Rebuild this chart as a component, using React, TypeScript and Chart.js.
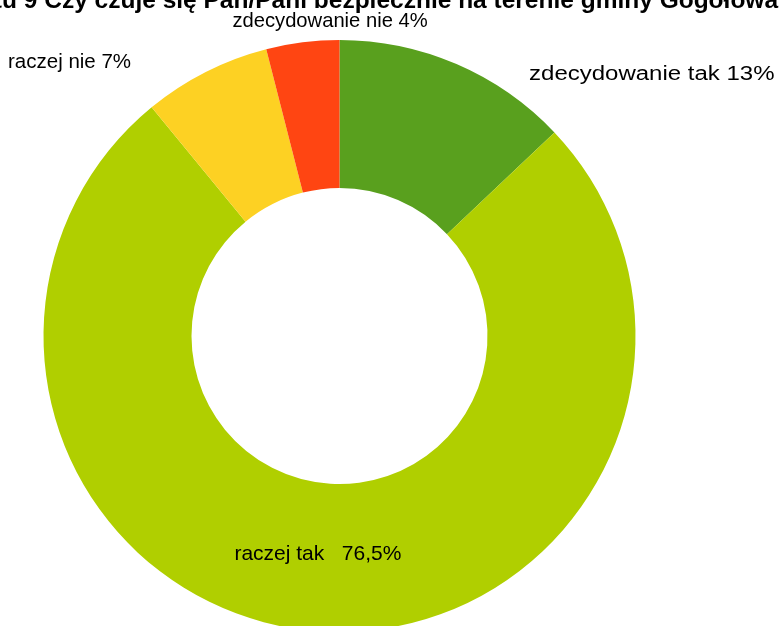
import React, { useEffect, useRef } from "react";
import { Chart, registerables } from "chart.js";

Chart.register(...registerables);

const categories = ["zdecydowanie tak", "raczej tak", "raczej nie", "zdecydowanie nie"];
const values = [13, 76.5, 7, 4];
const sliceColors = ["#59a01e", "#b0cf00", "#fdd123", "#ff4512"];
const titlePrefix = "Wykres do punkt";
const titleText = "u 9 Czy czuje się Pan/Pani bezpiecznie na terenie gminy Gogołowa";

// label placement relative to doughnut centre, in units of outer radius
const labelPlacement = [
  { dx: 1.055, dy: -0.885, size: 20, scaleX: 1.2, gap: " " },
  { dx: -0.073, dy: 0.736, size: 21, scaleX: 1.0, gap: "   " },
  { dx: -0.912, dy: -0.923, size: 20.5, scaleX: 1.0, gap: " " },
  { dx: -0.032, dy: -1.062, size: 20.2, scaleX: 1.0, gap: " " },
];

const fmt = (v: number) => String(v).replace(".", ",") + "%";

const labelPlugin = {
  id: "labelPlugin",
  afterDraw(chart: any) {
    const ctx = chart.ctx as CanvasRenderingContext2D;
    const meta = chart.getDatasetMeta(0);
    const arc0 = meta.data[0];
    if (!arc0) return;
    const { x: cx, y: cy, outerRadius: R } = arc0.getProps(["x", "y", "outerRadius"], true);
    ctx.save();
    ctx.fillStyle = "#000";
    ctx.textBaseline = "middle";
    ctx.textAlign = "center";
    categories.forEach((cat, i) => {
      const p = labelPlacement[i];
      const text = cat + p.gap + fmt(values[i]);
      ctx.save();
      ctx.font = `${p.size}px "Liberation Sans", Arial, sans-serif`;
      ctx.translate(cx + p.dx * R, cy + p.dy * R);
      ctx.scale(p.scaleX, 1);
      ctx.fillText(text, 0, 0);
      ctx.restore();
    });
    // title (partially cut off at the top of the page)
    ctx.font = `bold 24.5px "Liberation Sans", Arial, sans-serif`;
    ctx.textAlign = "left";
    ctx.textBaseline = "alphabetic";
    const pre = ctx.measureText(titlePrefix).width;
    ctx.fillText(titlePrefix, 2 - pre, 8);
    ctx.fillText(titleText, 2, 8);
    ctx.restore();
  },
};

export default function App() {
  const ref = useRef<HTMLCanvasElement | null>(null);
  useEffect(() => {
    if (!ref.current) return;
    const chart = new Chart(ref.current, {
      type: "doughnut",
      data: {
        labels: categories,
        datasets: [
          {
            data: values,
            backgroundColor: sliceColors,
            borderWidth: 0,
            hoverOffset: 0,
          },
        ],
      },
      options: {
        responsive: false,
        animation: false,
        cutout: "50%",
        layout: { padding: { top: 40, left: 43.5, right: 144.5, bottom: 48 } },
        plugins: {
          legend: { display: false },
          title: { display: false },
          tooltip: { enabled: false },
        },
        events: [],
      },
      plugins: [labelPlugin],
    });
    return () => chart.destroy();
  }, []);
  return (
    <div
      style={{
        position: "fixed",
        left: 0,
        top: 0,
        width: 780,
        height: 626,
        overflow: "hidden",
        background: "#fff",
      }}
    >
      <canvas ref={ref} width={780} height={680} style={{ display: "block" }} />
    </div>
  );
}
